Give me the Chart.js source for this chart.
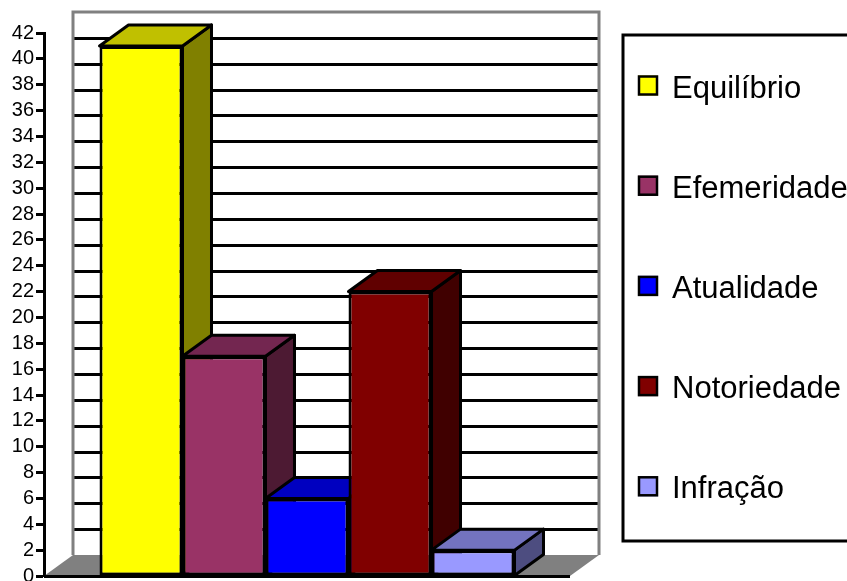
<!DOCTYPE html>
<html>
<head>
<meta charset="utf-8">
<script src="https://cdn.jsdelivr.net/npm/chart.js@4.4.0/dist/chart.umd.min.js"></script>
<style>
  html, body { margin: 0; padding: 0; background: #fff; }
</style>
</head>
<body>
<canvas id="myChart" width="847" height="581"></canvas>
<script>
const categories = ["Equilíbrio", "Efemeridade", "Atualidade", "Notoriedade", "Infração"];
const values = [41, 17, 6, 22, 2];
const frontColors = ["#ffff00", "#993366", "#0000ff", "#800000", "#9999ff"];
const topColors = ["#c0c000", "#732650", "#0000c0", "#600000", "#7373bf"];
const sideColors = ["#808000", "#4d1a33", "#000080", "#400000", "#4d4d80"];
const yTicks = [0, 2, 4, 6, 8, 10, 12, 14, 16, 18, 20, 22, 24, 26, 28, 30, 32, 34, 36, 38, 40, 42];

const FONT = "'Liberation Sans', Arial, sans-serif";
// depth of the fake 3d box
const DX = 29;
const DY = 21;

const poly = (ctx, pts, fill, stroke, lw) => {
  ctx.beginPath();
  ctx.moveTo(pts[0][0], pts[0][1]);
  for (let i = 1; i < pts.length; i++) ctx.lineTo(pts[i][0], pts[i][1]);
  ctx.closePath();
  if (fill) {
    ctx.fillStyle = fill;
    ctx.fill();
  }
  if (stroke) {
    ctx.strokeStyle = stroke;
    ctx.lineWidth = lw;
    ctx.stroke();
  }
};

const box3d = {
  id: "box3d",
  beforeDatasetsDraw(chart) {
    const ctx = chart.ctx;
    const { left, right, bottom } = chart.chartArea;
    const y = chart.scales.y;
    ctx.save();
    // floor
    poly(ctx, [[left, bottom], [right, bottom], [right + DX, bottom - DY], [left + DX, bottom - DY]], "#808080");
    // back wall gridlines
    ctx.strokeStyle = "#000";
    ctx.lineWidth = 3;
    yTicks.forEach((v) => {
      if (v === 0 || v === yTicks[yTicks.length - 1]) return;
      const py = Math.round(y.getPixelForValue(v) - DY) + 0.5;
      ctx.beginPath();
      ctx.moveTo(left + DX, py);
      ctx.lineTo(right + DX, py);
      ctx.stroke();
    });
    // wall border
    const wallTop = y.getPixelForValue(yTicks[yTicks.length - 1]) - DY;
    ctx.strokeStyle = "#808080";
    ctx.lineWidth = 3;
    ctx.beginPath();
    ctx.moveTo(left + DX, bottom - DY);
    ctx.lineTo(left + DX, wallTop);
    ctx.lineTo(right + DX, wallTop);
    ctx.lineTo(right + DX, bottom - DY);
    ctx.stroke();

    // side and top faces, left to right, before the fronts
    ctx.lineJoin = "round";
    chart.data.datasets.forEach((ds, i) => {
      const bar = chart.getDatasetMeta(i).data[0];
      const l = bar.x - bar.width / 2;
      const r = bar.x + bar.width / 2;
      const t = bar.y;
      const b = bar.base;
      poly(ctx, [[r, t], [r + DX, t - DY], [r + DX, b - DY], [r, b]], sideColors[i], "#000", 3);
      poly(ctx, [[l, t], [r, t], [r + DX, t - DY], [l + DX, t - DY]], topColors[i], "#000", 3);
    });
    ctx.restore();
  },
  afterDatasetsDraw(chart) {
    const ctx = chart.ctx;
    const { left, right, bottom } = chart.chartArea;
    ctx.save();
    ctx.strokeStyle = "#000";
    ctx.lineWidth = 3;
    ctx.beginPath();
    ctx.moveTo(left, bottom + 0.5);
    ctx.lineTo(right, bottom + 0.5);
    ctx.stroke();
    ctx.restore();
  },
  afterDraw(chart) {
    // legend box
    const ctx = chart.ctx;
    ctx.save();
    ctx.strokeStyle = "#000";
    ctx.lineWidth = 3;
    ctx.strokeRect(623, 35, 400, 506);
    ctx.font = "31px " + FONT;
    ctx.textBaseline = "alphabetic";
    ctx.textAlign = "left";
    categories.forEach((name, i) => {
      const base = 97.5 + i * 100.2;
      const sq = base - 22;
      ctx.fillStyle = frontColors[i];
      ctx.fillRect(638, sq, 20, 20);
      ctx.lineWidth = 2.5;
      ctx.strokeStyle = "#000";
      ctx.strokeRect(639, sq + 1, 18, 18);
      ctx.fillStyle = "#000";
      ctx.fillText(name, 672, base);
    });
    ctx.restore();
  },
};

const ctx = document.getElementById("myChart").getContext("2d");
const myChart = new Chart(ctx, {
  type: "bar",
  data: {
    labels: [""],
    datasets: categories.map((name, i) => ({
      label: name,
      data: [values[i]],
      backgroundColor: frontColors[i],
      borderColor: "#000",
      borderWidth: 3,
      borderSkipped: false,
    })),
  },
  options: {
    responsive: false,
    animation: false,
    events: [],
    layout: { padding: { left: 0, top: 33, right: 277, bottom: 5 } },
    datasets: { bar: { barPercentage: 1, categoryPercentage: 0.789 } },
    plugins: { legend: { display: false }, tooltip: { enabled: false } },
    scales: {
      x: { display: false },
      y: {
        min: yTicks[0],
        max: yTicks[yTicks.length - 1],
        afterFit: (scale) => {
          scale.width = 44;
          scale.paddingTop = 0;
          scale.paddingBottom = 0;
        },
        afterBuildTicks: (scale) => {
          scale.ticks = yTicks.map((v) => ({ value: v }));
        },
        ticks: {
          autoSkip: false,
          color: "#000",
          font: { family: FONT, size: 20 },
          padding: 2,
        },
        grid: {
          drawOnChartArea: false,
          drawTicks: true,
          tickLength: 8,
          tickColor: "#000",
          tickWidth: 3,
        },
        border: { display: true, color: "#000", width: 3 },
      },
    },
  },
  plugins: [box3d],
});
</script>
</body>
</html>
